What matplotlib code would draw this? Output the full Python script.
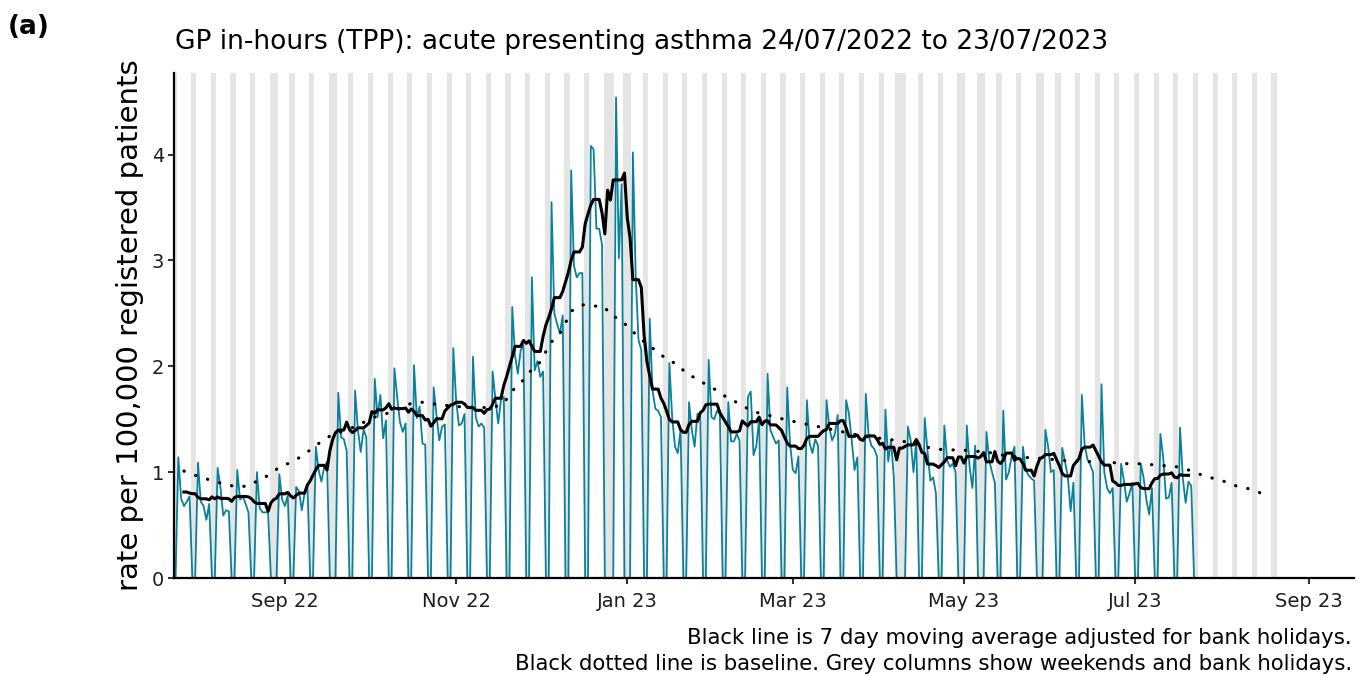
import numpy as np
import pandas as pd
import matplotlib
matplotlib.use("Agg")
import matplotlib.pyplot as plt
import matplotlib.dates as mdates

# ---------------- data ----------------
start_date = "2022-07-24"      # first day of the series (Sunday)
grey_end_date = "2023-08-20"   # grey weekend columns drawn up to here

bank_holidays = ["2022-08-29", "2022-09-19", "2022-12-26", "2022-12-27",
                 "2023-01-02", "2023-04-07", "2023-04-10", "2023-05-01",
                 "2023-05-08", "2023-05-29"]

# daily rate per 100,000 (Sun 24/07/2022, then Mon..Sun weeks)
first_day_rate = [0.0]
weekly_rates = [
    [1.14, 0.75, 0.68, 0.72, 0.77, 0, 0],   # w/c 25 Jul 2022
    [1.09, 0.72, 0.68, 0.55, 0.70, 0, 0],
    [1.04, 0.86, 0.59, 0.64, 0.63, 0, 0],
    [1.02, 0.74, 0.77, 0.70, 0.62, 0, 0],
    [1.00, 0.66, 0.62, 0.62, 0.62, 0, 0],
    [0.00, 0.98, 0.74, 0.68, 0.78, 0, 0],   # 29 Aug BH
    [0.86, 0.82, 0.64, 0.80, 0.89, 0, 0],
    [1.24, 1.02, 0.91, 1.05, 1.10, 0, 0],
    [0.00, 1.75, 1.33, 1.31, 1.20, 0, 0],   # 19 Sep BH
    [1.77, 1.40, 1.19, 1.40, 1.33, 0, 0],
    [1.88, 1.52, 1.73, 1.32, 1.49, 0, 0],   # 3 Oct
    [1.98, 1.71, 1.47, 1.38, 1.46, 0, 0],
    [2.01, 1.51, 1.62, 1.27, 1.26, 0, 0],
    [1.80, 1.54, 1.30, 1.43, 1.45, 0, 0],
    [2.17, 1.68, 1.44, 1.46, 1.55, 0, 0],   # 31 Oct
    [2.09, 1.52, 1.43, 1.46, 1.42, 0, 0],
    [1.95, 1.69, 1.46, 1.68, 1.71, 0, 0],
    [2.56, 2.10, 1.93, 2.15, 2.20, 0, 0],
    [2.84, 1.96, 2.05, 1.90, 1.95, 0, 0],   # 28 Nov
    [3.55, 2.50, 2.40, 2.31, 2.48, 0, 0],
    [3.85, 2.95, 2.84, 2.88, 2.88, 0, 0],
    [4.08, 4.05, 3.30, 3.30, 3.15, 0, 0],
    [0.00, 0.00, 4.54, 3.02, 3.72, 0, 0],   # 26-27 Dec BH
    [0.00, 4.02, 2.85, 2.25, 2.15, 0, 0],   # 2 Jan BH
    [2.45, 1.77, 1.60, 1.58, 1.52, 0, 0],
    [2.03, 1.52, 1.24, 1.18, 1.40, 0, 0],
    [1.66, 1.40, 1.24, 1.55, 1.55, 0, 0],
    [2.06, 1.52, 1.50, 1.58, 1.55, 0, 0],   # 30 Jan
    [1.66, 1.29, 1.29, 1.36, 1.30, 0, 0],
    [1.71, 1.76, 1.16, 1.25, 1.50, 0, 0],
    [1.93, 1.40, 1.33, 1.27, 1.30, 0, 0],
    [1.80, 1.27, 1.02, 0.99, 1.15, 0, 0],   # 27 Feb
    [1.68, 1.27, 1.18, 1.31, 1.25, 0, 0],
    [1.68, 1.42, 1.30, 1.36, 1.54, 0, 0],
    [1.68, 1.55, 1.30, 1.02, 1.14, 0, 0],
    [1.74, 1.35, 1.25, 1.22, 1.15, 0, 0],
    [1.59, 1.10, 1.30, 0.95, 0.00, 0, 0],   # 7 Apr BH
    [0.00, 1.43, 1.30, 1.00, 1.30, 0, 0],   # 10 Apr BH
    [1.51, 1.20, 0.92, 0.95, 0.80, 0, 0],
    [1.44, 1.11, 1.05, 1.08, 1.00, 0, 0],
    [0.00, 1.44, 1.05, 0.85, 1.25, 0, 0],   # 1 May BH
    [0.00, 1.38, 1.11, 1.00, 0.90, 0, 0],   # 8 May BH
    [1.58, 0.93, 1.00, 1.15, 1.24, 0, 0],
    [1.24, 1.02, 0.97, 0.94, 0.92, 0, 0],
    [0.00, 1.40, 1.24, 1.00, 1.02, 0, 0],   # 29 May BH
    [1.23, 1.10, 0.96, 0.63, 0.90, 0, 0],
    [1.73, 1.26, 1.12, 1.07, 1.00, 0, 0],
    [1.83, 1.00, 0.85, 0.80, 0.85, 0, 0],
    [1.08, 0.92, 0.72, 0.80, 0.90, 0, 0],
    [1.08, 0.95, 0.74, 0.60, 0.85, 0, 0],   # 3 Jul 2023
    [1.36, 1.14, 0.75, 0.76, 0.90, 0, 0],
    [1.42, 0.94, 0.71, 0.91, 0.87, 0, 0],   # w/c 17 Jul 2023
]

baseline_dates = [
    "2022-07-27", "2022-08-01", "2022-08-06", "2022-08-10", "2022-08-15",
    "2022-08-19", "2022-08-23", "2022-08-27", "2022-08-30", "2022-09-03",
    "2022-09-07", "2022-09-10", "2022-09-14", "2022-09-17", "2022-09-25",
    "2022-10-03", "2022-10-08", "2022-10-16", "2022-10-20", "2022-10-25",
    "2022-11-01", "2022-11-08", "2022-11-13", "2022-11-17", "2022-11-19",
    "2022-11-22", "2022-11-25", "2022-11-28", "2022-12-01", "2022-12-03",
    "2022-12-05", "2022-12-08", "2022-12-10", "2022-12-12", "2022-12-16",
    "2022-12-20", "2022-12-24", "2022-12-26", "2022-12-30", "2023-01-02",
    "2023-01-05", "2023-01-08", "2023-01-12", "2023-01-15", "2023-01-19",
    "2023-01-22", "2023-01-26", "2023-01-30", "2023-02-03", "2023-02-06",
    "2023-02-10", "2023-02-14", "2023-02-18", "2023-02-23", "2023-02-27",
    "2023-03-03", "2023-03-08", "2023-03-12", "2023-03-17", "2023-03-26",
    "2023-04-04", "2023-04-12", "2023-04-20", "2023-04-25", "2023-04-30",
    "2023-05-04", "2023-05-09", "2023-05-13", "2023-05-17", "2023-05-22",
    "2023-05-29", "2023-06-05", "2023-06-14", "2023-06-23", "2023-06-28",
    "2023-07-02", "2023-07-07", "2023-07-12", "2023-07-16", "2023-07-20",
    "2023-07-24", "2023-07-29", "2023-08-02", "2023-08-06", "2023-08-11",
    "2023-08-15", "2023-08-17",
]
baseline_values = [
    1.01, 0.96, 0.92, 0.89, 0.86,
    0.87, 0.93, 0.98, 1.05, 1.09,
    1.15, 1.21, 1.29, 1.34, 1.42,
    1.52, 1.56, 1.65, 1.66, 1.64,
    1.62, 1.61, 1.61, 1.63, 1.69,
    1.80, 1.87, 1.97, 2.04, 2.14,
    2.23, 2.31, 2.41, 2.52, 2.58,
    2.57, 2.56, 2.48, 2.44, 2.34,
    2.29, 2.20, 2.14, 2.06, 2.02,
    1.93, 1.88, 1.81, 1.76, 1.69,
    1.65, 1.58, 1.55, 1.52, 1.49,
    1.47, 1.44, 1.42, 1.39, 1.34,
    1.31, 1.28, 1.22, 1.21, 1.21,
    1.20, 1.19, 1.17, 1.15, 1.14,
    1.13, 1.11, 1.10, 1.09, 1.08,
    1.08, 1.07, 1.06, 1.05, 1.02,
    0.98, 0.94, 0.91, 0.87, 0.84,
    0.80, 0.78,
]

x_tick_dates = ["2022-09-01", "2022-11-01", "2023-01-01", "2023-03-01",
                "2023-05-01", "2023-07-01", "2023-09-01"]
y_ticks = [0, 1, 2, 3, 4]

title = "GP in-hours (TPP): acute presenting asthma 24/07/2022 to 23/07/2023"
panel_label = "(a)"
y_label = "rate per 100,000 registered patients"
caption_1 = "Black line is 7 day moving average adjusted for bank holidays."
caption_2 = "Black dotted line is baseline. Grey columns show weekends and bank holidays."

# ---------------- derived series ----------------
rates = np.array(first_day_rate + [v for wk in weekly_rates for v in wk], dtype=float)
dates = pd.date_range(start_date, periods=len(rates), freq="D")
series = pd.Series(rates, index=dates)

bh = pd.to_datetime(bank_holidays)
off_day = (dates.dayofweek >= 5) | dates.isin(bh)
working = series.where(~off_day)
ma = working.rolling(7, center=True, min_periods=1).mean()
ma.iloc[:3] = np.nan
ma.iloc[-3:] = np.nan

grey_range = pd.date_range(start_date, grey_end_date, freq="D")
grey_days = grey_range[(grey_range.dayofweek >= 5) | grey_range.isin(bh)]

# merge consecutive grey days into single columns
runs = []
for g in grey_days:
    if runs and (g - runs[-1][1]) == pd.Timedelta(days=1):
        runs[-1][1] = g
    else:
        runs.append([g, g])

base_dates = pd.to_datetime(baseline_dates)

# ---------------- figure ----------------
plt.rcParams["font.family"] = ["DejaVu Sans"]

fig = plt.figure(figsize=(13.63, 6.76), dpi=100)
ax = fig.add_axes([174/1363, 1-578/676, (1354-174)/1363, (578-73)/676])

y_top = 4.77
for a, b in runs:
    ax.axvspan(a - pd.Timedelta(hours=10), b + pd.Timedelta(hours=10),
               color="#e5e5e5", lw=0, zorder=0)

ax.plot(dates, series.values, color="#0A8199", lw=1.3, zorder=2)
ax.plot(dates, ma.values, color="black", lw=2.2, zorder=3)
ax.plot(base_dates, baseline_values, color="black", lw=2.3,
        linestyle=(0, (0.1, 3.8)), dash_capstyle="round", zorder=4)

ax.set_ylim(0, y_top)
ax.set_xlim(pd.Timestamp(start_date) - pd.Timedelta(hours=13),
            pd.Timestamp(start_date) + pd.Timedelta(days=420))

ax.set_yticks(y_ticks)
ax.set_yticklabels([str(t) for t in y_ticks])
ax.set_xticks(pd.to_datetime(x_tick_dates))
ax.xaxis.set_major_formatter(mdates.DateFormatter("%b %y"))

for s in ["top", "right"]:
    ax.spines[s].set_visible(False)
for s in ["left", "bottom"]:
    ax.spines[s].set_linewidth(1.6)
    ax.spines[s].set_color("black")
ax.tick_params(axis="both", direction="out", length=4, width=1.5,
               color="#333333", labelcolor="#1e1e1e", labelsize=14, pad=3)
ax.tick_params(axis="x", pad=6)

ax.set_ylabel(y_label, fontsize=21, labelpad=6)

fig.text(175/1363, 1-42/676, title, fontsize=19, ha="left", va="center")
fig.text(8/1363, 1-27/676, panel_label, fontsize=19, fontweight="bold",
         ha="left", va="center")
fig.text(1352/1363, 1-638/676, caption_1, fontsize=15.3, ha="right", va="center")
fig.text(1352/1363, 1-664/676, caption_2, fontsize=15.3, ha="right", va="center")

fig.savefig("out.png", dpi=100)
